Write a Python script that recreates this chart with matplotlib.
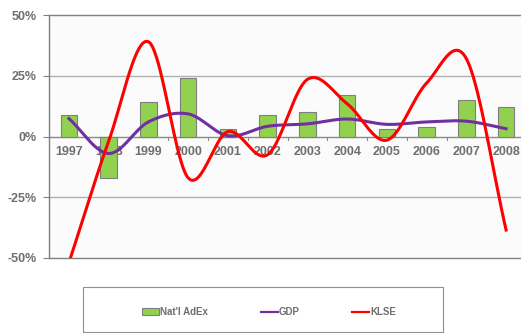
import numpy as np
import matplotlib.pyplot as plt
from matplotlib.patches import Rectangle

years = ["1997", "1998", "1999", "2000", "2001", "2002",
         "2003", "2004", "2005", "2006", "2007", "2008"]
adex = [9, -17, 14, 24, 3, 9, 10, 17, 3, 4, 15, 12]
gdp = [7.4, -7.0, 6.0, 9.3, 0.3, 4.2, 5.2, 7.2, 5.0, 6.0, 6.3, 3.2]
klse = [-52, -2, 39, -17, 2, -7.5, 23.5, 13.5, -1.5, 22, 32, -38.5]


def smooth(x, y, n=40):
    """Catmull-Rom curve through the points, like a smoothed line chart."""
    x = np.asarray(x, float)
    y = np.asarray(y, float)
    px = np.concatenate([[2 * x[0] - x[1]], x, [2 * x[-1] - x[-2]]])
    py = np.concatenate([[2 * y[0] - y[1]], y, [2 * y[-1] - y[-2]]])
    t = np.linspace(0, 1, n)
    xs, ys = [], []
    for i in range(1, len(px) - 2):
        for p, out in ((px, xs), (py, ys)):
            p0, p1, p2, p3 = p[i - 1], p[i], p[i + 1], p[i + 2]
            out.append(0.5 * (2 * p1 + (-p0 + p2) * t
                              + (2 * p0 - 5 * p1 + 4 * p2 - p3) * t ** 2
                              + (-p0 + 3 * p1 - 3 * p2 + p3) * t ** 3))
    return np.concatenate(xs), np.concatenate(ys)


plt.rcParams['font.family'] = ['Liberation Sans', 'DejaVu Sans']
grey = '#6f6f6f'

fig = plt.figure(figsize=(5.21, 3.33), dpi=100)
ax = fig.add_axes([49 / 521, 1 - 258 / 333, 477 / 521, 243 / 333])
ax.set_facecolor('#fbfbfb')

x = np.arange(len(years))
bars = ax.bar(x, adex, width=0.42, color='#92d050', edgecolor='#7f7f7f',
              linewidth=0.8, zorder=2, label="Nat'l AdEx")
gx, gy = smooth(x, gdp)
gdp_line, = ax.plot(gx, gy, color='#7030a0', lw=2.2, zorder=3, label='GDP')
kx, ky = smooth(x, klse)
klse_line, = ax.plot(kx, ky, color='#ff0000', lw=2.2, zorder=4, label='KLSE')

ax.set_xlim(-0.5, len(years) - 0.5)
ax.set_ylim(-50, 50)
ax.set_yticks([-50, -25, 0, 25, 50])
ax.set_yticklabels(['-50%', '-25%', '0%', '25%', '50%'])
for yv in (25, -25):
    ax.axhline(yv, color='#b0b0b0', lw=1.0, zorder=1)
ax.axhline(0, color='#8a8a8a', lw=1.0, zorder=1)

# year labels sit just under the zero line
ax.set_xticks([])
for xi, yr in zip(x, years):
    ax.text(xi, -4, yr, ha='center', va='top', fontsize=9,
            fontweight='bold', color=grey, zorder=1)
for b in np.arange(0.5, len(years) - 0.5):
    ax.plot([b, b], [0, -1.5], color='#8a8a8a', lw=0.8, zorder=1)

ax.spines['right'].set_visible(False)
for side in ('top', 'bottom', 'left'):
    ax.spines[side].set_color('#808080')
    ax.spines[side].set_linewidth(1.0)
ax.tick_params(axis='y', length=4, color='#808080', labelsize=9,
               labelcolor=grey, pad=5)
for lbl in ax.get_yticklabels():
    lbl.set_fontweight('bold')

# legend box
fig.patches.append(Rectangle((83 / 521, 1 - 332 / 333), 360 / 521, 45 / 333,
                             transform=fig.transFigure, facecolor='white',
                             edgecolor='#909090', lw=0.8))
leg = fig.legend([bars, gdp_line, klse_line], ["Nat'l AdEx", 'GDP', 'KLSE'],
                 loc='center', bbox_to_anchor=(269 / 521, 1 - 312 / 333),
                 ncol=3, frameon=False, handlelength=1.75,
                 handletextpad=0.1, columnspacing=5.4,
                 prop={'weight': 'bold', 'size': 7})
for t in leg.get_texts():
    t.set_color(grey)
for h in leg.legend_handles[1:]:
    h.set_linewidth(1.6)

fig.savefig('out.png', dpi=100)
